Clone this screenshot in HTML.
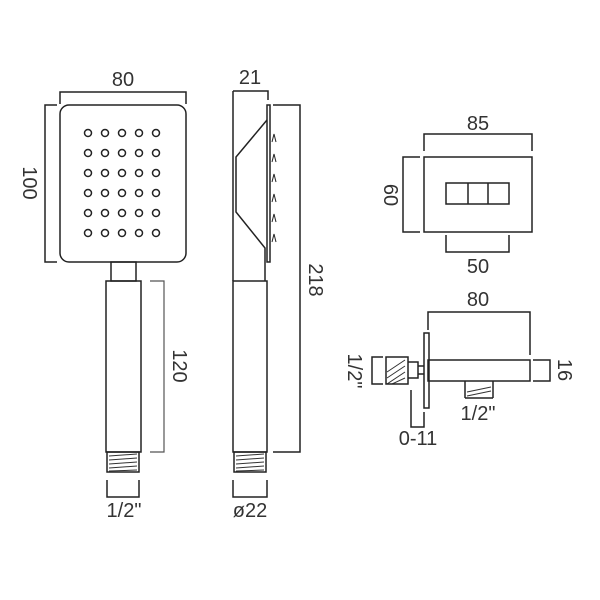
<!DOCTYPE html>
<html><head><style>
html,body{margin:0;padding:0;background:#fff;}
svg{display:block;}
text{font-family:"Liberation Sans",sans-serif;font-size:20px;fill:#333;}
</style></head><body>
<svg width="600" height="600" viewBox="0 0 600 600" xmlns="http://www.w3.org/2000/svg">
<g fill="none" stroke="#222" stroke-width="1.5">
<rect x="60" y="105" width="126" height="157" rx="9"/>
<path d="M60 104V92H186V104"/>
<path d="M57 105H45V262H57"/>
<rect x="111" y="262" width="25" height="19"/>
<rect x="106" y="281" width="35" height="171"/>
<rect x="107" y="452" width="32" height="20"/>
<path d="M107 480V497H139V480"/>
<path d="M150 281H164V452H150" stroke="#555" stroke-width="1.2"/>
</g>
<g fill="none" stroke="#333" stroke-width="1">
<path d="M109 456L137 454M109 460L137 458M109 464L137 462M109 468L137 466M109 471L137 470"/>
<path d="M236 456L264 454M236 460L264 458M236 464L264 462M236 468L264 466M236 471L264 470"/>
<path d="M387 372L405 360M387 378L405 366M387 384L405 372M392 384L405 378"/>
<path d="M467 392L491 387M467 396L491 391"/>
</g>
<g fill="none" stroke="#222" stroke-width="1.5">
<g>
<circle cx="88" cy="133" r="3.5"/><circle cx="105" cy="133" r="3.5"/><circle cx="122" cy="133" r="3.5"/><circle cx="139" cy="133" r="3.5"/><circle cx="156" cy="133" r="3.5"/>
<circle cx="88" cy="153" r="3.5"/><circle cx="105" cy="153" r="3.5"/><circle cx="122" cy="153" r="3.5"/><circle cx="139" cy="153" r="3.5"/><circle cx="156" cy="153" r="3.5"/>
<circle cx="88" cy="173" r="3.5"/><circle cx="105" cy="173" r="3.5"/><circle cx="122" cy="173" r="3.5"/><circle cx="139" cy="173" r="3.5"/><circle cx="156" cy="173" r="3.5"/>
<circle cx="88" cy="193" r="3.5"/><circle cx="105" cy="193" r="3.5"/><circle cx="122" cy="193" r="3.5"/><circle cx="139" cy="193" r="3.5"/><circle cx="156" cy="193" r="3.5"/>
<circle cx="88" cy="213" r="3.5"/><circle cx="105" cy="213" r="3.5"/><circle cx="122" cy="213" r="3.5"/><circle cx="139" cy="213" r="3.5"/><circle cx="156" cy="213" r="3.5"/>
<circle cx="88" cy="233" r="3.5"/><circle cx="105" cy="233" r="3.5"/><circle cx="122" cy="233" r="3.5"/><circle cx="139" cy="233" r="3.5"/><circle cx="156" cy="233" r="3.5"/>
</g>
<path d="M233 91H268V100"/>
<path d="M233 91V281"/>
<rect x="267" y="105" width="3" height="157"/>
<path d="M267 120L236 157V212L265 248V281"/>
<path d="M273 105H300V452H273"/>
<rect x="233" y="281" width="34" height="171"/>
<rect x="234" y="452" width="32" height="20"/>
<path d="M233 480V497H267V480"/>
<path d="M272 142L274 134L276 142M272 162L274 154L276 162M272 182L274 174L276 182M272 202L274 194L276 202M272 222L274 214L276 222M272 242L274 234L276 242" stroke-width="1"/>
<rect x="424" y="157" width="108" height="75"/>
<path d="M424 151V134H532V151"/>
<path d="M420 157H403V232H420"/>
<rect x="446" y="183" width="63" height="21"/>
<path d="M468 183V204M488 183V204"/>
<path d="M446 235V252H509V235"/>
<rect x="428" y="360" width="102" height="21"/>
<rect x="424" y="333" width="5" height="75"/>
<path d="M428 330V312H530V355"/>
<path d="M533 360H550V381H533"/>
<rect x="386" y="357" width="22" height="27"/>
<path d="M408 362H418V378H408"/>
<path d="M418 366H424M418 374H424"/>
<path d="M383 357H372V384H383"/>
<path d="M465 398V381M493 398V381M465 398H493"/>
<path d="M411 390V427H424V412"/>
</g>
<g>
<text x="123" y="86" text-anchor="middle">80</text>
<text x="250" y="84" text-anchor="middle">21</text>
<text transform="translate(23,183) rotate(90)" text-anchor="middle">100</text>
<text transform="translate(173,366) rotate(90)" text-anchor="middle">120</text>
<text transform="translate(309,280) rotate(90)" text-anchor="middle">218</text>
<text x="124" y="517" text-anchor="middle">1/2"</text>
<text x="250" y="517" text-anchor="middle">ø22</text>
<text x="478" y="130" text-anchor="middle">85</text>
<text transform="translate(384,195) rotate(90)" text-anchor="middle">60</text>
<text x="478" y="273" text-anchor="middle">50</text>
<text x="478" y="306" text-anchor="middle">80</text>
<text transform="translate(558,370) rotate(90)" text-anchor="middle">16</text>
<text transform="translate(348,371) rotate(90)" text-anchor="middle">1/2"</text>
<text x="478" y="420" text-anchor="middle">1/2"</text>
<text x="418" y="445" text-anchor="middle">0-11</text>
</g>
</svg>
</body></html>
